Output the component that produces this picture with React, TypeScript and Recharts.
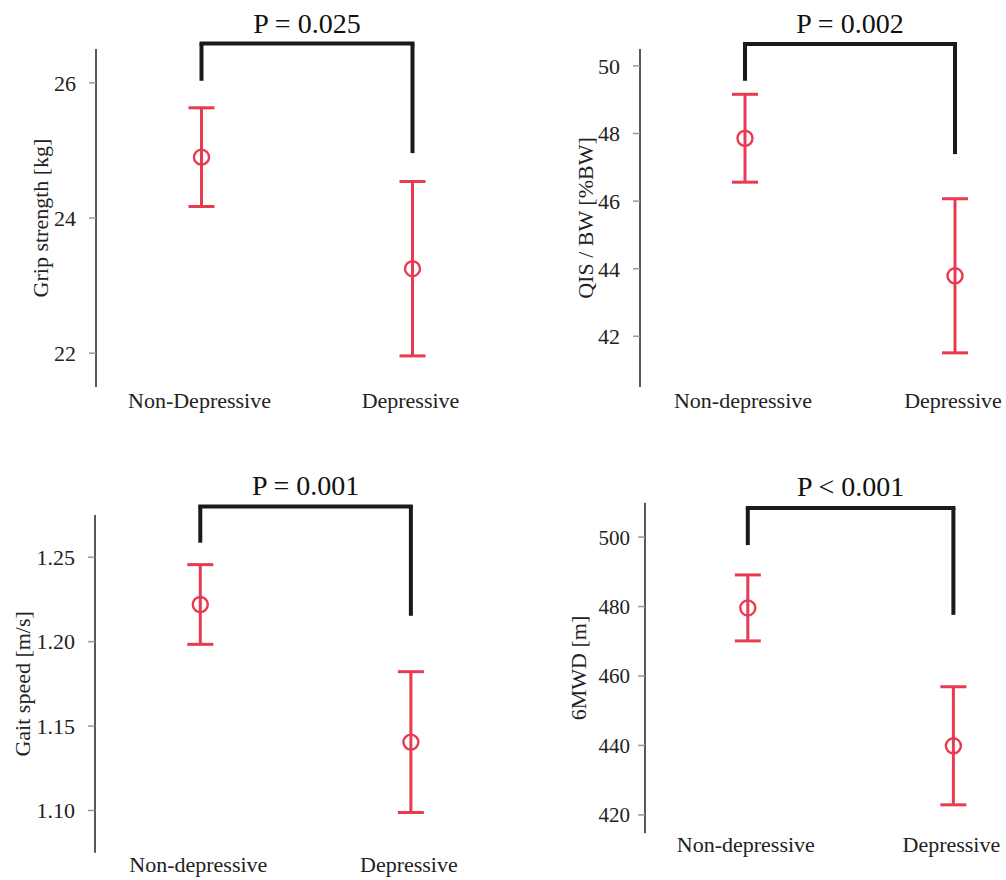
import React from 'react';
import {
  ComposedChart,
  Scatter,
  ErrorBar,
  XAxis,
  YAxis,
  ReferenceLine,
} from 'recharts';

const W = 1006;
const H = 880;
const RED = '#e83a50';
const INK = '#1a1a1a';
const SERIF = '"Liberation Serif", "Times New Roman", serif';

// categories
const groupsUpper = ['Non-Depressive', 'Depressive'];
const groupsLower = ['Non-depressive', 'Depressive'];

// grip strength [kg]
const gripMeans = [24.9, 23.25];
const gripErr = [0.73, 1.29];
const gripTicks = [22, 24, 26];
const gripBracket = [26.03, 26.58, 24.96]; // left leg end, top, right leg end

// QIS / BW [%BW]
const qisMeans = [47.86, 43.79];
const qisErr = [1.3, 2.28];
const qisTicks = [42, 44, 46, 48, 50];
const qisBracket = [49.56, 50.65, 47.39];

// gait speed [m/s]
const gaitMeans = [1.222, 1.1405];
const gaitErr = [0.0236, 0.0417];
const gaitTicks = [1.1, 1.15, 1.2, 1.25];
const gaitBracket = [1.2586, 1.2801, 1.2153];

// 6MWD [m]
const mwdMeans = [479.6, 439.9];
const mwdErr = [9.5, 17];
const mwdTicks = [420, 440, 460, 480, 500];
const mwdBracket = [497.7, 508.4, 477.6];

const OpenCircle = (props: any) => (
  <circle cx={props.cx} cy={props.cy} r={7.5} fill="none" stroke={RED} strokeWidth={2.4} />
);

interface PanelProps {
  plot: { left: number; top: number; width: number; height: number };
  yAxisWidth: number;
  yDomain: [number, number];
  yTicks: number[];
  tickFmt: (v: number) => string;
  categories: string[];
  means: number[];
  errors: number[];
  bracket: number[];
  pText: string;
  pOffset: number;
  yLabel: string;
  tickMargin: number;
  xTickMargin: number;
  tickFont: number;
}

function Panel({
  plot, yAxisWidth, yDomain, yTicks, tickFmt, categories, means, errors,
  bracket, pText, pOffset, yLabel, tickMargin, xTickMargin, tickFont,
}: PanelProps) {
  const data = categories.map((name, i) => ({ x: i * 2 + 1, name, mean: means[i], err: errors[i] }));
  const xAxisHeight = 20;
  const margin = {
    top: plot.top,
    left: plot.left - yAxisWidth,
    right: W - plot.left - plot.width,
    bottom: H - plot.top - plot.height - xAxisHeight,
  };
  const [leftEnd, top, rightEnd] = bracket;
  return (
    <div style={{ position: 'absolute', left: 0, top: 0 }}>
      <ComposedChart width={W} height={H} data={data} margin={margin}>
        <XAxis
          type="number"
          dataKey="x"
          domain={[0, 3.4]}
          ticks={[1, 3]}
          interval={0}
          allowDataOverflow
          tickFormatter={(v: number) => categories[(v - 1) / 2]}
          axisLine={false}
          tickLine={false}
          tickSize={0}
          tickMargin={xTickMargin}
          height={xAxisHeight}
          tick={{ fontSize: 22, fill: '#222', fontFamily: SERIF, dx: -2 }}
        />
        <YAxis
          type="number"
          domain={yDomain}
          ticks={yTicks}
          interval={0}
          allowDataOverflow
          width={yAxisWidth}
          tickFormatter={tickFmt}
          tickSize={7}
          tickMargin={tickMargin}
          axisLine={{ stroke: '#222', strokeWidth: 1.5 }}
          tickLine={{ stroke: '#999', strokeWidth: 1.5 }}
          tick={{ fontSize: tickFont, fill: '#222', fontFamily: SERIF }}
          label={{
            value: yLabel,
            angle: -90,
            position: 'insideLeft',
            offset: 5,
            fontSize: 22,
            fontFamily: SERIF,
            fill: '#222',
            style: { textAnchor: 'middle' },
          }}
        />
        <Scatter dataKey="mean" isAnimationActive={false} shape={OpenCircle}>
          <ErrorBar dataKey="err" direction="y" width={13} strokeWidth={3} stroke={RED} isAnimationActive={false} />
        </Scatter>
        <ReferenceLine
          segment={[{ x: 1, y: leftEnd }, { x: 1, y: top }]}
          stroke={INK}
          strokeWidth={4}
          ifOverflow="visible"
        />
        <ReferenceLine
          segment={[{ x: 3, y: top }, { x: 3, y: rightEnd }]}
          stroke={INK}
          strokeWidth={4}
          ifOverflow="visible"
        />
        <ReferenceLine
          segment={[{ x: 1, y: top }, { x: 3, y: top }]}
          stroke={INK}
          strokeWidth={4}
          strokeLinecap="square"
          ifOverflow="visible"
          label={{
            value: pText,
            position: 'top',
            offset: pOffset,
            fontSize: 28,
            fontFamily: SERIF,
            fill: '#111',
          }}
        />
      </ComposedChart>
    </div>
  );
}

export default function App() {
  return (
    <div style={{ position: 'absolute', left: 0, top: 0, width: W, height: H, background: '#fff' }}>
      <Panel
        plot={{ left: 96, top: 49, width: 358.7, height: 338 }}
        yAxisWidth={61}
        yDomain={[21.5, 26.5]}
        yTicks={gripTicks}
        tickFmt={(v) => String(v)}
        categories={groupsUpper}
        means={gripMeans}
        errors={gripErr}
        bracket={gripBracket}
        pText="P = 0.025"
        pOffset={11}
        yLabel="Grip strength [kg]"
        tickMargin={13}
        xTickMargin={5}
        tickFont={22}
      />
      <Panel
        plot={{ left: 640, top: 49, width: 357, height: 338 }}
        yAxisWidth={60}
        yDomain={[40.5, 50.5]}
        yTicks={qisTicks}
        tickFmt={(v) => String(v)}
        categories={groupsLower}
        means={qisMeans}
        errors={qisErr}
        bracket={qisBracket}
        pText="P = 0.002"
        pOffset={11}
        yLabel="QIS / BW [%BW]"
        tickMargin={13}
        xTickMargin={5}
        tickFont={22}
      />
      <Panel
        plot={{ left: 95, top: 515, width: 358, height: 337.7 }}
        yAxisWidth={78}
        yDomain={[1.075, 1.275]}
        yTicks={gaitTicks}
        tickFmt={(v) => v.toFixed(2)}
        categories={groupsLower}
        means={gaitMeans}
        errors={gaitErr}
        bracket={gaitBracket}
        pText="P = 0.001"
        pOffset={11}
        yLabel="Gait speed [m/s]"
        tickMargin={13}
        xTickMargin={4}
        tickFont={22}
      />
      <Panel
        plot={{ left: 645, top: 502.7, width: 349.5, height: 330.6 }}
        yAxisWidth={72}
        yDomain={[414.7, 509.9]}
        yTicks={mwdTicks}
        tickFmt={(v) => String(v)}
        categories={groupsLower}
        means={mwdMeans}
        errors={mwdErr}
        bracket={mwdBracket}
        pText="P < 0.001"
        pOffset={12}
        yLabel="6MWD [m]"
        tickMargin={8}
        xTickMargin={3}
        tickFont={21}
      />
    </div>
  );
}
